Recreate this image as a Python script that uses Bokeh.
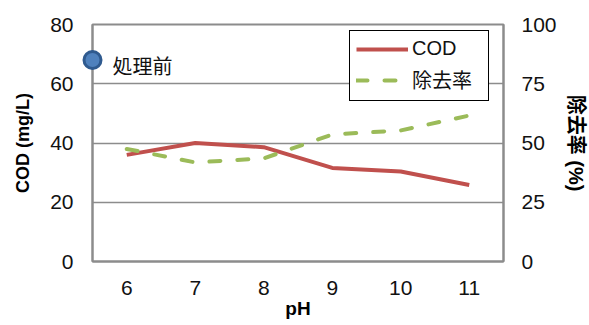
from bokeh.plotting import figure
from bokeh.models import (Range1d, LinearAxis, FixedTicker, Legend, LegendItem,
                          Label)
from bokeh.embed import file_html
from bokeh.resources import INLINE

# pH series
ph = [6, 7, 8, 9, 10, 11]
cod = [36.0, 40.0, 38.6, 31.6, 30.4, 25.8]          # mg/L
removal = [47.5, 41.8, 43.5, 53.6, 55.3, 61.6]      # %
cod_before = 68.0                                   # COD before treatment
before_label = "処理前"

cod_ticks = [0, 20, 40, 60, 80]
rate_ticks = [0, 25, 50, 75, 100]

FONT = "'Liberation Sans', 'Noto Sans CJK JP', sans-serif"
CJK = "'Noto Sans CJK JP', sans-serif"
GRAY = "#8c8c8c"

p = figure(width=589, height=325, output_backend="svg", toolbar_location=None,
           x_range=Range1d(5.5, 11.5), y_range=Range1d(0, 80),
           min_border_left=92, min_border_right=86, min_border_top=24,
           min_border_bottom=64)
p.extra_y_ranges = {"rate": Range1d(0, 100)}

p.outline_line_color = GRAY
p.outline_line_width = 2
p.xgrid.visible = False
p.ygrid.ticker = FixedTicker(ticks=cod_ticks)
p.ygrid.grid_line_color = GRAY
p.ygrid.grid_line_width = 1.5

# axes
xa = p.xaxis[0]
xa.ticker = FixedTicker(ticks=ph)
xa.axis_label = "pH"
ya = p.yaxis[0]
ya.ticker = FixedTicker(ticks=cod_ticks)
ya.axis_label = "COD (mg/L)"
ra = LinearAxis(y_range_name="rate", ticker=FixedTicker(ticks=rate_ticks),
                axis_label="除去率 (%)")
p.add_layout(ra, "right")

for ax in (xa, ya, ra):
    ax.axis_line_color = GRAY
    ax.axis_line_width = 2
    ax.major_tick_line_color = None
    ax.minor_tick_line_color = None
    ax.major_tick_out = 0
    ax.major_tick_in = 0
    ax.minor_tick_out = 0
    ax.minor_tick_in = 0
    ax.major_label_text_font = FONT
    ax.major_label_text_font_size = "21px"
    ax.major_label_text_color = "#111111"
    ax.axis_label_text_font = FONT
    ax.axis_label_text_font_style = "bold"
    ax.axis_label_text_font_size = "18px"
    ax.axis_label_text_color = "#000000"
xa.major_label_standoff = 19
xa.axis_label_standoff = 0
xa.axis_label_text_font_size = "19px"
ya.major_label_standoff = 19
ya.axis_label_standoff = 14
ra.major_label_standoff = 18
ra.axis_label_standoff = 5
ra.axis_label_text_font_size = "20px"

# series
r_cod = p.line(ph, cod, line_color="#c0504d", line_width=4)
r_rate = p.line(ph, removal, line_color="#9bbb59", line_width=4,
                line_dash="11 17", line_cap="round", y_range_name="rate")

# before-treatment point, sitting on the left axis line
p.scatter([p.x_range.start], [cod_before], size=17, fill_color="#4f81bd",
          line_color="#2f5a8f", line_width=3, level="overlay")
p.add_layout(Label(x=p.x_range.start, y=cod_before, text=before_label,
                   x_offset=20, y_offset=-5, text_baseline="middle",
                   text_font=CJK, text_font_size="20px", text_color="#111111"))

legend = Legend(items=[LegendItem(label="COD", renderers=[r_cod]),
                       LegendItem(label="除去率", renderers=[r_rate])],
                location=(257, 160), border_line_color="#000000",
                border_line_alpha=1.0, border_line_width=1.5,
                label_text_font=FONT, label_text_font_size="20px",
                label_text_color="#111111",
                glyph_width=52, glyph_height=22, label_height=22,
                label_width=70, spacing=5, padding=6, margin=0,
                label_standoff=4, background_fill_alpha=1)
p.add_layout(legend, "center")

open("out.html", "w").write(file_html(p, INLINE))
